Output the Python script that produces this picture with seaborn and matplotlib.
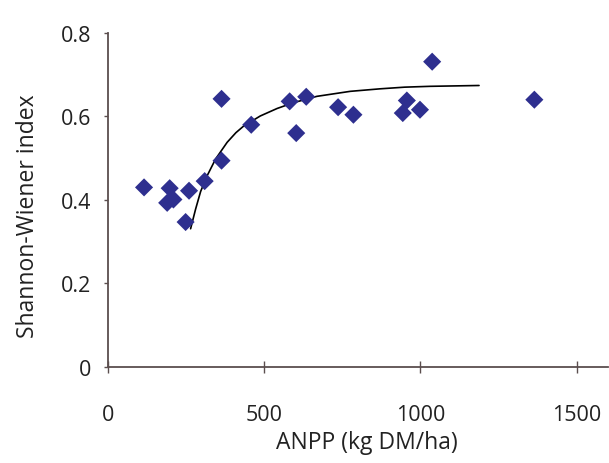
import numpy as np
import pandas as pd
import matplotlib
matplotlib.use("Agg")
import matplotlib.pyplot as plt
import seaborn as sns

# ANPP (kg DM/ha) and Shannon-Wiener index
anpp = [116, 198, 190, 210, 260, 249, 310, 364, 364, 459, 582, 603,
        635, 737, 786, 1038, 957, 944, 999, 1365]
shannon = [0.430, 0.428, 0.393, 0.401, 0.422, 0.347, 0.445, 0.642, 0.494,
           0.580, 0.636, 0.560, 0.647, 0.622, 0.604, 0.731, 0.638, 0.608,
           0.616, 0.640]

# fitted trend curve, sampled from the figure
curve_x = [265, 281, 297, 318, 345, 382, 410, 435, 488, 542, 595, 669,
           776, 871, 950, 1031, 1110, 1188]
curve_y = [0.331, 0.378, 0.420, 0.458, 0.498, 0.538, 0.561, 0.577, 0.601,
           0.619, 0.633, 0.648, 0.660, 0.666, 0.670, 0.672, 0.673, 0.674]

pts = pd.DataFrame({"ANPP": anpp, "H": shannon})
fit = pd.DataFrame({"ANPP": curve_x, "H": curve_y})

sns.set_style("white")
plt.rcParams["font.family"] = ["Open Sans", "DejaVu Sans"]

fig = plt.figure(figsize=(6.09, 4.64), dpi=100)
ax = fig.add_axes([0.177, 0.207, 0.821, 0.720])

sns.lineplot(data=fit, x="ANPP", y="H", color="black", linewidth=1.2, ax=ax)
sns.scatterplot(data=pts, x="ANPP", y="H", marker="D", s=85,
                color="#2e2f8f", edgecolor="none", ax=ax, zorder=3)

ax.set_xlim(0, 1600)
ax.set_ylim(0, 0.8)
ax.set_xticks([0, 500, 1000, 1500])
ax.set_yticks([0, 0.2, 0.4, 0.6, 0.8])
ax.set_xticklabels(["0", "500", "1000", "1500"])
ax.set_yticklabels(["0", "0.2", "0.4", "0.6", "0.8"])

spine_col = "#5b4e4e"
text_col = "#222222"
for side in ["top", "right"]:
    ax.spines[side].set_visible(False)
for side in ["left", "bottom"]:
    ax.spines[side].set_color(spine_col)
    ax.spines[side].set_linewidth(1.3)

ax.tick_params(axis="x", bottom=True, direction="inout", length=8, width=1,
               color=spine_col, labelsize=15.5, pad=23, labelcolor=text_col)
ax.tick_params(axis="y", left=True, direction="out", length=3, width=1,
               color=spine_col, labelsize=15.5, pad=9, labelcolor=text_col)

ax.set_xlabel("ANPP (kg DM/ha)", fontsize=16.5, color=text_col, va="top")
ax.set_ylabel("Shannon-Wiener index", fontsize=16.5, color=text_col)
ax.xaxis.set_label_coords(0.518, -0.19)
ax.yaxis.set_label_coords(-0.135, 0.455)

fig.savefig("out.png", dpi=100)
